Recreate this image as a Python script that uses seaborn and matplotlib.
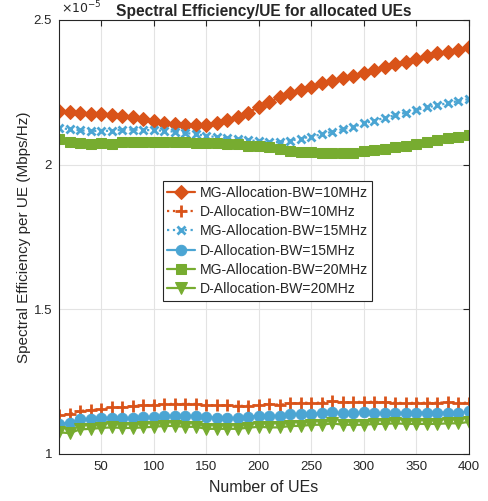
import numpy as np
import pandas as pd
import matplotlib
matplotlib.use("Agg")
import matplotlib.pyplot as plt
import seaborn as sns

# ---- data (values in units of 1e-5 Mbps/Hz) ----
num_ues = list(range(10, 401, 10))

mg_10 = [2.187, 2.181, 2.177, 2.175, 2.174, 2.172, 2.168, 2.164, 2.158, 2.151,
         2.145, 2.142, 2.138, 2.136, 2.137, 2.143, 2.155, 2.166, 2.180, 2.200,
         2.217, 2.233, 2.247, 2.258, 2.270, 2.281, 2.289, 2.298, 2.306, 2.318,
         2.327, 2.336, 2.348, 2.356, 2.366, 2.376, 2.385, 2.389, 2.396, 2.406]

d_10 = [1.135, 1.138, 1.149, 1.152, 1.154, 1.161, 1.161, 1.165, 1.168, 1.170,
        1.173, 1.173, 1.173, 1.173, 1.170, 1.168, 1.168, 1.166, 1.167, 1.170,
        1.173, 1.170, 1.175, 1.177, 1.177, 1.177, 1.182, 1.179, 1.179, 1.181,
        1.180, 1.179, 1.177, 1.176, 1.177, 1.177, 1.177, 1.179, 1.177, 1.177]

mg_15 = [2.128, 2.122, 2.119, 2.116, 2.117, 2.117, 2.121, 2.121, 2.120, 2.119,
         2.117, 2.114, 2.110, 2.105, 2.100, 2.095, 2.091, 2.089, 2.085, 2.081,
         2.077, 2.078, 2.083, 2.090, 2.097, 2.105, 2.114, 2.123, 2.131, 2.143,
         2.152, 2.162, 2.171, 2.180, 2.189, 2.198, 2.205, 2.213, 2.220, 2.227]

d_15 = [1.104, 1.108, 1.120, 1.121, 1.123, 1.126, 1.123, 1.123, 1.127, 1.129,
        1.132, 1.132, 1.131, 1.132, 1.127, 1.126, 1.124, 1.124, 1.129, 1.132,
        1.131, 1.132, 1.137, 1.138, 1.138, 1.141, 1.144, 1.141, 1.141, 1.144,
        1.141, 1.141, 1.143, 1.141, 1.143, 1.143, 1.143, 1.143, 1.141, 1.149]

mg_20 = [2.088, 2.080, 2.075, 2.073, 2.074, 2.073, 2.078, 2.078, 2.078, 2.077,
         2.078, 2.077, 2.077, 2.076, 2.076, 2.074, 2.070, 2.070, 2.066, 2.063,
         2.060, 2.053, 2.048, 2.045, 2.043, 2.040, 2.039, 2.039, 2.040, 2.046,
         2.051, 2.054, 2.060, 2.066, 2.071, 2.078, 2.085, 2.091, 2.097, 2.101]

d_20 = [1.075, 1.072, 1.085, 1.087, 1.090, 1.092, 1.090, 1.090, 1.092, 1.094,
        1.097, 1.097, 1.094, 1.094, 1.087, 1.087, 1.087, 1.087, 1.091, 1.094,
        1.092, 1.092, 1.097, 1.097, 1.101, 1.101, 1.106, 1.101, 1.101, 1.101,
        1.104, 1.104, 1.106, 1.104, 1.104, 1.104, 1.104, 1.106, 1.106, 1.111]

labels = ["MG-Allocation-BW=10MHz", "D-Allocation-BW=10MHz",
          "MG-Allocation-BW=15MHz", "D-Allocation-BW=15MHz",
          "MG-Allocation-BW=20MHz", "D-Allocation-BW=20MHz"]
series = [mg_10, d_10, mg_15, d_15, mg_20, d_20]

x_ticks = [50, 100, 150, 200, 250, 300, 350, 400]
y_ticks = [1, 1.5, 2, 2.5]
y_tick_labels = ["1", "1.5", "2", "2.5"]

# ---- style ----
sns.set_style("white")
plt.rcParams["font.family"] = ["Liberation Sans", "DejaVu Sans"]

orange = "#D95319"
blue = "#4BA5D3"
green = "#77AC30"
styles = [
    dict(color=orange, linestyle="-", marker="D", markersize=7.5),
    dict(color=orange, linestyle=":", marker="+", markersize=8, markeredgewidth=2),
    dict(color=blue, linestyle=":", marker="x", markersize=5.5, markeredgewidth=2),
    dict(color=blue, linestyle="-", marker="o", markersize=7.5),
    dict(color=green, linestyle="-", marker="s", markersize=7),
    dict(color=green, linestyle="-", marker="v", markersize=9),
]

fig = plt.figure(figsize=(4.89, 5.01), dpi=100)
ax = fig.add_axes([59 / 489, 1 - 454 / 501, 410 / 489, 434 / 501])

df = pd.DataFrame({"UEs": num_ues})
for lab, vals, st in zip(labels, series, styles):
    df[lab] = vals
    sns.lineplot(data=df, x="UEs", y=lab, ax=ax, label=lab,
                 linewidth=1.6, markeredgecolor=st["color"],
                 markerfacecolor=st["color"], **st)

ax.set_xlim(10, 400)
ax.set_ylim(1, 2.5)
ax.set_xticks(x_ticks)
ax.set_yticks(y_ticks)
ax.set_yticklabels(y_tick_labels)
ax.tick_params(direction="in", top=True, right=True, length=4, pad=5,
               labelsize=9.5, color="#262626", labelcolor="#262626")
ax.grid(True, color="#e3e3e3", linewidth=0.8)
for sp in ax.spines.values():
    sp.set_color("#262626")
    sp.set_linewidth(0.8)

ax.set_xlabel("Number of UEs", fontsize=11.5, color="#262626", labelpad=5)
ax.set_ylabel("Spectral Efficiency per UE (Mbps/Hz)", fontsize=11,
              color="#262626", labelpad=1.5)
ax.set_title("Spectral Efficiency/UE for allocated UEs", fontsize=11.2,
             fontweight="bold", pad=3)
ax.text(0.005, 1.008, r"$\times10^{-5}$", transform=ax.transAxes,
        fontsize=9, color="#262626", ha="left", va="bottom")

leg = ax.legend(loc="upper left", bbox_to_anchor=(0.254, 0.628),
                fontsize=10.1, frameon=True, fancybox=False,
                edgecolor="#262626", framealpha=1, handlelength=2.0,
                borderpad=0.3, labelspacing=0.38, handletextpad=0.3,
                borderaxespad=0)
leg.get_frame().set_linewidth(0.8)

fig.savefig("out.png", dpi=100)
